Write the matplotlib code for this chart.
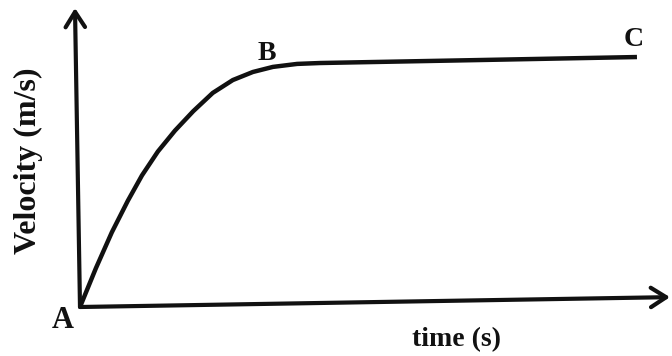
import matplotlib
matplotlib.use('Agg')
import matplotlib.pyplot as plt

# velocity-time curve (arbitrary units)
time_s = [0.0, 0.27, 0.54, 0.81, 1.05, 1.32, 1.61, 1.92, 2.25, 2.59, 2.93,
          3.27, 3.68, 4.07, 6.78, 9.44]
velocity = [0.0, 1.3, 2.5, 3.55, 4.4, 5.2, 5.9, 6.55, 7.16, 7.59, 7.86,
            8.03, 8.13, 8.16, 8.26, 8.36]

point_labels = ['A', 'B', 'C']
x_label = 'time (s)'
y_label = 'Velocity (m/s)'

W, H = 672, 356
fig = plt.figure(figsize=(W / 100, H / 100), dpi=100)
fig.patch.set_facecolor('white')

# axes origin at pixel (80, 307), x arrow tip at 670, y arrow tip at 8
ax = fig.add_axes([80 / W, (H - 307) / H, 590 / W, 299 / H])
ax.set_xlim(0, 10)
ax.set_ylim(0, 10)
ax.axis('off')

ax.plot(time_s, velocity, color='#111111', lw=3.2, solid_capstyle='butt',
        solid_joinstyle='round', clip_on=False)

arrow = dict(arrowstyle='->, head_length=1.1, head_width=0.7', lw=3.0,
             color='#111111', shrinkA=0, shrinkB=0)
# the scan is slightly rotated, so the axes lean a little
ax.annotate('', xy=(1.0, 0.033), xytext=(0, 0), xycoords='axes fraction',
            arrowprops=arrow)
ax.annotate('', xy=(-0.0085, 1.0), xytext=(0, 0), xycoords='axes fraction',
            arrowprops=arrow)

font = dict(family='Liberation Serif', weight='bold', color='#111111')


def px(x, y):
    return x / W, 1 - y / H


label_pos = [(63, 321), (267, 54), (634, 39)]
label_size = [22, 20, 20]
for lab, (x, y), fs in zip(point_labels, label_pos, label_size):
    fig.text(*px(x, y), lab, fontsize=fs, ha='center', va='center', **font)

fig.text(*px(457, 340), x_label, fontsize=20, ha='center', va='center', **font)
fig.text(*px(28, 161), y_label, fontsize=23, rotation=90, ha='center',
         va='center', **font)

fig.savefig('out.png', dpi=100)
